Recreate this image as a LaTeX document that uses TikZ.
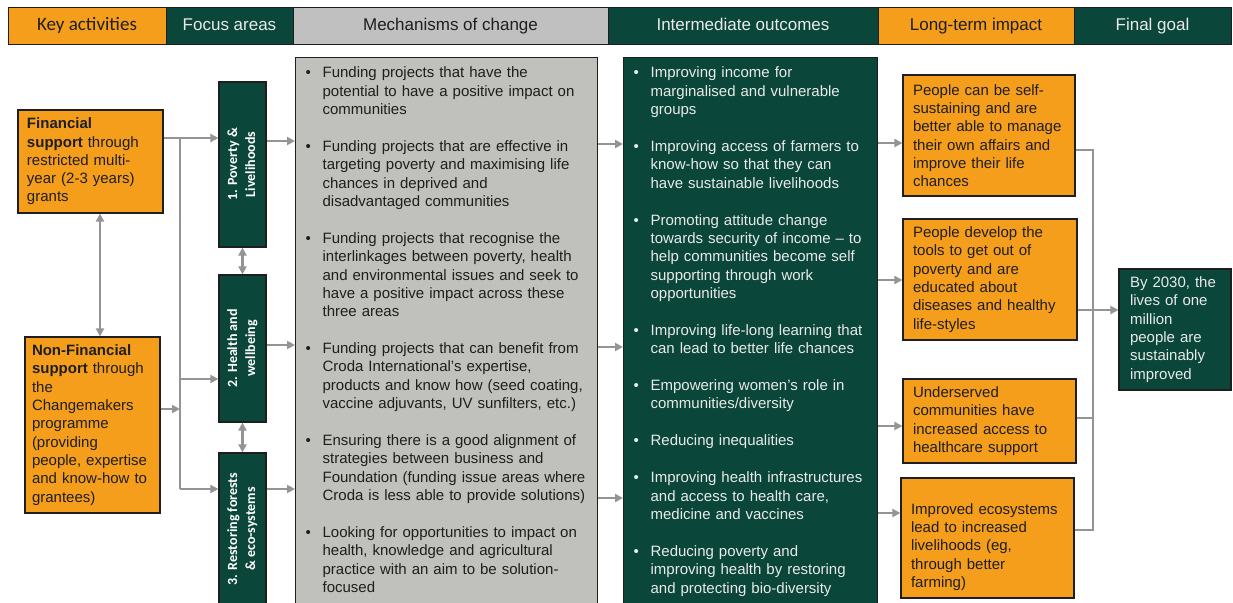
\documentclass[tikz,border=0pt]{standalone}
\usepackage{fontspec}
\setmainfont{Liberation Sans}
\newfontfamily\calfont{Carlito}
\usepackage{graphicx}
\usepackage{tikz}
\usetikzlibrary{arrows.meta}
\definecolor{impactorange}{RGB}{245,158,28}
\definecolor{deepgreen}{RGB}{10,70,58}
\definecolor{stonegrey}{RGB}{192,192,188}
\definecolor{headgrey}{RGB}{192,192,192}
\definecolor{arrowgrey}{RGB}{148,148,148}
\definecolor{inkdark}{RGB}{30,30,30}
\definecolor{paletext}{RGB}{234,234,234}
\newcommand{\bitem}[1]{\par\hangindent=17pt\hangafter=1\noindent\makebox[17pt][l]{\textbullet}{\let\\\newline#1}\par\vspace{18.7pt}}
\newcommand{\vlabel}[1]{\rotatebox{90}{\begin{tabular}{@{}c@{}}#1\end{tabular}}}
\tikzset{
  base/.style={font=\fontsize{15pt}{18.3pt}\selectfont, align=left, text=inkdark, inner sep=0pt},
  box/.style={base, rectangle, draw=inkdark, line width=1.2pt, fill=impactorange, inner xsep=10pt},
  greenbox/.style={box, fill=deepgreen, text=paletext},
  listbox/.style={base, rectangle, draw=inkdark, line width=1.2pt, inner xsep=10pt, inner ysep=2pt, anchor=north west},
  focus/.style={base, rectangle, draw=inkdark, line width=1.2pt, fill=deepgreen, text=white, minimum width=47pt, align=center, font=\calfont\bfseries\fontsize{14pt}{18pt}\selectfont},
  head/.style={base, align=center, draw=inkdark, line width=1pt, minimum height=37pt, text height=12pt, text depth=3.5pt, font=\fontsize{17pt}{20pt}\selectfont},
  headorange/.style={head, fill=impactorange},
  headgreen/.style={head, fill=deepgreen, text=paletext},
  headgrey/.style={head, fill=headgrey},
  arr/.style={-{Stealth[length=8pt,width=8pt,inset=0pt]}, line width=2.2pt, draw=arrowgrey},
  arr2/.style={{Stealth[length=8pt,width=8pt,inset=0pt]}-{Stealth[length=8pt,width=8pt,inset=0pt]}, line width=2.2pt, draw=arrowgrey},
  link/.style={line width=2.2pt, draw=arrowgrey},
}
\begin{document}
\begin{tikzpicture}[x=1pt,y=-1pt]
  \useasboundingbox (0,0) rectangle (1233,602);
  \node[headorange,minimum width=158pt,font=\calfont\fontsize{19pt}{22pt}\selectfont] (keyh) at (87,26) {Key activities};
  \node[headgreen,minimum width=127pt] (focush) at (229.5,26) {Focus areas};
  \node[headgrey,minimum width=315pt] (mechh) at (450.5,26) {Mechanisms of change};
  \node[headgreen,minimum width=270pt] (outch) at (743,26) {Intermediate outcomes};
  \node[headorange,minimum width=196pt] (longh) at (976,26) {Long-term impact};
  \node[headgreen,minimum width=157pt] (goalh) at (1152.5,26) {Final goal};

  \node[box,text width=127pt,inner xsep=9pt,minimum height=103pt] (fin) at (90.5,161.5)
    {\textbf{Financial}\\\textbf{support} through\\restricted multi-\\year (2-3 years)\\grants};
  \node[box,text width=121pt,inner xsep=7pt,minimum height=176pt] (nonfin) at (92.5,425)
    {\textbf{Non-Financial}\\\textbf{support} through\\the\\Changemakers\\programme\\(providing\\people, expertise\\and know-how to\\grantees)};

  \node[focus,minimum height=165pt] (pov) at (242.5,164.5) {\vlabel{1. Poverty \&\\Livelihoods}};
  \node[focus,minimum height=147pt] (hlth) at (242.5,348.5) {\vlabel{2. Health and\\wellbeing}};
  \node[focus,minimum height=152pt] (rest) at (242.5,529) {\vlabel{3. Restoring forests\\\& eco-systems}};

  \node[listbox,fill=stonegrey,text width=282pt] (mech) at (295,57) {%
    \bitem{Funding projects that have the\\potential to have a positive impact on\\communities}
    \bitem{Funding projects that are effective in\\targeting poverty and maximising life\\chances in deprived and\\disadvantaged communities}
    \bitem{Funding projects that recognise the\\interlinkages between poverty, health\\and environmental issues and seek to\\have a positive impact across these\\three areas}
    \bitem{Funding projects that can benefit from\\Croda International’s expertise,\\products and know how (seed coating,\\vaccine adjuvants, UV sunfilters, etc.)}
    \bitem{Ensuring there is a good alignment of\\strategies between business and\\Foundation (funding issue areas where\\Croda is less able to provide solutions)}
    \bitem{Looking for opportunities to impact on\\health, knowledge and agricultural\\practice with an aim to be solution-\\focused}};
  \node[listbox,fill=deepgreen,text=paletext,text width=234pt] (outc) at (623,57) {%
    \bitem{Improving income for\\marginalised and vulnerable\\groups}
    \bitem{Improving access of farmers to\\know-how so that they can\\have sustainable livelihoods}
    \bitem{Promoting attitude change\\towards security of income -- to\\help communities become self\\supporting through work\\opportunities}
    \bitem{Improving life-long learning that\\can lead to better life chances}
    \bitem{Empowering women's role in\\communities/diversity}
    \bitem{Reducing inequalities}
    \bitem{Improving health infrastructures\\and access to health care,\\medicine and vaccines}
    \bitem{Reducing poverty and\\improving health by restoring\\and protecting bio-diversity}};

  \node[box,text width=152pt,minimum height=121pt] (lt1) at (989,135.5)
    {People can be self-\\sustaining and are\\better able to manage\\their own affairs and\\improve their life\\chances};
  \node[box,text width=154pt,minimum height=121pt] (lt2) at (990,279.5)
    {People develop the\\tools to get out of\\poverty and are\\educated about\\diseases and healthy\\life-styles};
  \node[box,text width=153pt,minimum height=84pt] (lt3) at (989.5,421)
    {Underserved\\communities have\\increased access to\\healthcare support};
  \node[box,text width=153pt,minimum height=120pt] (lt4) at (987.5,538)
    {\rule{0pt}{29pt}Improved ecosystems\\lead to increased\\livelihoods (eg,\\through better\\farming)};
  \node[greenbox,text width=90pt,inner xsep=11pt,minimum height=121pt] (goal) at (1175,329.5)
    {By 2030, the\\lives of one\\million\\people are\\sustainably\\improved};

  \coordinate (ltop) at (180,138);
  \coordinate (lmid) at (180,379);
  \coordinate (lnf) at (180,409);
  \coordinate (lbot) at (180,489);
  \coordinate (rtrunk) at (1093,310);
  \draw[arr] (fin.east |- ltop) -- (pov.west |- ltop);
  \draw[link] (ltop) -- (lbot);
  \draw[arr] (lmid) -- (hlth.west |- lmid);
  \draw[arr] (lbot) -- (rest.west |- lbot);
  \draw[arr] (nonfin.east |- lnf) -- (lnf);
  \draw[arr2] (fin.south -| 100,0) -- (nonfin.north -| 100,0);
  \foreach \a/\b in {pov/hlth,hlth/rest}{\draw[arr2] (\a.south) -- (\b.north);}
  \foreach \n/\y in {pov/141,hlth/345,rest/489}{\draw[arr] (\n.east |- 0,\y) -- (mech.west |- 0,\y);}
  \foreach \y in {144,347,498}{\draw[arr] (mech.east |- 0,\y) -- (outc.west |- 0,\y);}
  \foreach \n/\y in {lt1/143,lt2/280,lt3/426,lt4/513}{\draw[arr] (outc.east |- 0,\y) -- (\n.west |- 0,\y);}
  \foreach \n/\y in {lt1/150,lt3/418,lt4/530}{\draw[link] (\n.east |- 0,\y) -| (rtrunk);}
  \draw[arr] (lt2.east |- rtrunk) -- (goal.west |- rtrunk);
\end{tikzpicture}
\end{document}
